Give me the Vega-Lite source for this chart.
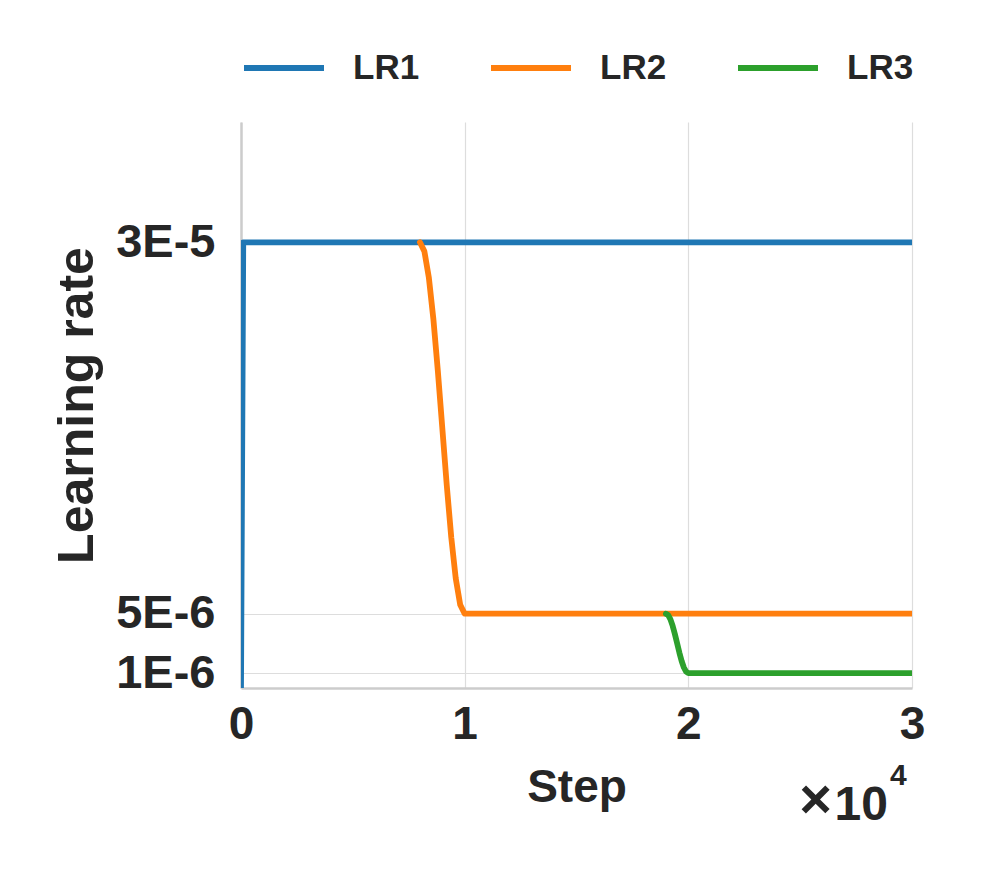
{
  "$schema": "https://vega.github.io/schema/vega-lite/v6.json",
  "autosize": "none",
  "width": 671,
  "height": 566,
  "padding": {"left": 241, "top": 122, "right": 85, "bottom": 198},
  "background": "white",
  "config": {
    "font": "Liberation Sans",
    "view": {"stroke": null},
    "axis": {"labelFont": "Liberation Sans", "titleFont": "Liberation Sans"}
  },
  "datasets": {
    "lr": [
      {"step": 0, "lr": 0, "series": "LR1"},
      {"step": 100, "lr": 3e-5, "series": "LR1"},
      {"step": 30000, "lr": 3e-5, "series": "LR1"},
      {"step": 8000, "lr": 30e-6, "series": "LR2"},
      {"step": 8200, "lr": 29.39e-6, "series": "LR2"},
      {"step": 8400, "lr": 27.61e-6, "series": "LR2"},
      {"step": 8600, "lr": 24.85e-6, "series": "LR2"},
      {"step": 8800, "lr": 21.36e-6, "series": "LR2"},
      {"step": 9000, "lr": 17.5e-6, "series": "LR2"},
      {"step": 9200, "lr": 13.64e-6, "series": "LR2"},
      {"step": 9400, "lr": 10.15e-6, "series": "LR2"},
      {"step": 9600, "lr": 7.39e-6, "series": "LR2"},
      {"step": 9800, "lr": 5.61e-6, "series": "LR2"},
      {"step": 10000, "lr": 5e-6, "series": "LR2"},
      {"step": 30000, "lr": 5e-6, "series": "LR2"},
      {"step": 19000, "lr": 5e-6, "series": "LR3"},
      {"step": 19100, "lr": 4.90e-6, "series": "LR3"},
      {"step": 19200, "lr": 4.62e-6, "series": "LR3"},
      {"step": 19300, "lr": 4.18e-6, "series": "LR3"},
      {"step": 19400, "lr": 3.62e-6, "series": "LR3"},
      {"step": 19500, "lr": 3.0e-6, "series": "LR3"},
      {"step": 19600, "lr": 2.38e-6, "series": "LR3"},
      {"step": 19700, "lr": 1.82e-6, "series": "LR3"},
      {"step": 19800, "lr": 1.38e-6, "series": "LR3"},
      {"step": 19900, "lr": 1.10e-6, "series": "LR3"},
      {"step": 20000, "lr": 1.0e-6, "series": "LR3"},
      {"step": 30000, "lr": 1.0e-6, "series": "LR3"}
    ],
    "note": [{"step": 30000, "lr": 0, "text": "10"}],
    "note1": [{"step": 30000, "lr": 0, "text": "×"}],
    "note2": [{"step": 30000, "lr": 0, "text": "4"}]
  },
  "layer": [
    {
      "data": {"name": "lr"},
      "mark": {"type": "line", "strokeWidth": 5.8, "strokeCap": "round", "strokeJoin": "round", "clip": true},
      "encoding": {
        "x": {
          "field": "step", "type": "quantitative",
          "scale": {"domain": [0, 30000], "nice": false, "zero": false},
          "axis": {
            "title": "Step", "titleFontSize": 46, "titleFontWeight": "bold", "titleColor": "#262626", "titlePadding": 18,
            "values": [0, 10000, 20000, 30000],
            "labelExpr": "format(datum.value / 10000, 'd')",
            "labelFontSize": 46, "labelFontWeight": "bold", "labelColor": "#262626", "labelPadding": 14,
            "labelFlush": false, "labelOverlap": false,
            "ticks": false, "domainColor": "#cccccc", "domainWidth": 2.5,
            "grid": true, "gridColor": "#dddddd", "gridWidth": 1.2
          }
        },
        "y": {
          "field": "lr", "type": "quantitative",
          "scale": {"domain": [0, 3.81e-5], "nice": false, "zero": false},
          "axis": {
            "title": "Learning rate", "titleFontSize": 50, "titleFontWeight": "bold", "titleColor": "#262626", "titlePadding": 13,
            "values": [1e-6, 5e-6, 3e-5],
            "labelExpr": "datum.value > 2e-5 ? '3E-5' : (datum.value > 3e-6 ? '5E-6' : '1E-6')",
            "labelFontSize": 47, "labelFontWeight": "bold", "labelColor": "#262626", "labelPadding": 26,
            "labelFlush": false, "labelOverlap": false,
            "ticks": false, "domainColor": "#cccccc", "domainWidth": 2.5,
            "grid": true, "gridColor": "#dddddd", "gridWidth": 1.2
          }
        },
        "color": {
          "field": "series", "type": "nominal",
          "scale": {"domain": ["LR1", "LR2", "LR3"], "range": ["#1f77b4", "#ff7f0e", "#2ca02c"]},
          "legend": {
            "title": null, "orient": "top", "direction": "horizontal",
            "symbolType": "stroke", "symbolSize": 6400, "symbolStrokeWidth": 6,
            "labelFontSize": 35, "labelFontWeight": "bold", "labelColor": "#262626", "labelOffset": 26,
            "columnPadding": 59, "offset": 36, "padding": 0
          }
        }
      }
    },
    {
      "data": {"name": "note"},
      "mark": {"type": "text", "fontSize": 48, "fontWeight": "bold", "color": "#262626", "align": "right", "baseline": "alphabetic", "dy": 132, "dx": -24},
      "encoding": {
        "x": {"field": "step", "type": "quantitative"},
        "y": {"field": "lr", "type": "quantitative"},
        "text": {"field": "text"}
      }
    },
    {
      "data": {"name": "note1"},
      "mark": {"type": "text", "fontSize": 56, "fontWeight": "bold", "color": "#262626", "align": "right", "baseline": "alphabetic", "dy": 130, "dx": -80},
      "encoding": {
        "x": {"field": "step", "type": "quantitative"},
        "y": {"field": "lr", "type": "quantitative"},
        "text": {"field": "text"}
      }
    },
    {
      "data": {"name": "note2"},
      "mark": {"type": "text", "fontSize": 30, "fontWeight": "bold", "color": "#262626", "align": "left", "baseline": "alphabetic", "dy": 97, "dx": -22},
      "encoding": {
        "x": {"field": "step", "type": "quantitative"},
        "y": {"field": "lr", "type": "quantitative"},
        "text": {"field": "text"}
      }
    }
  ]
}
